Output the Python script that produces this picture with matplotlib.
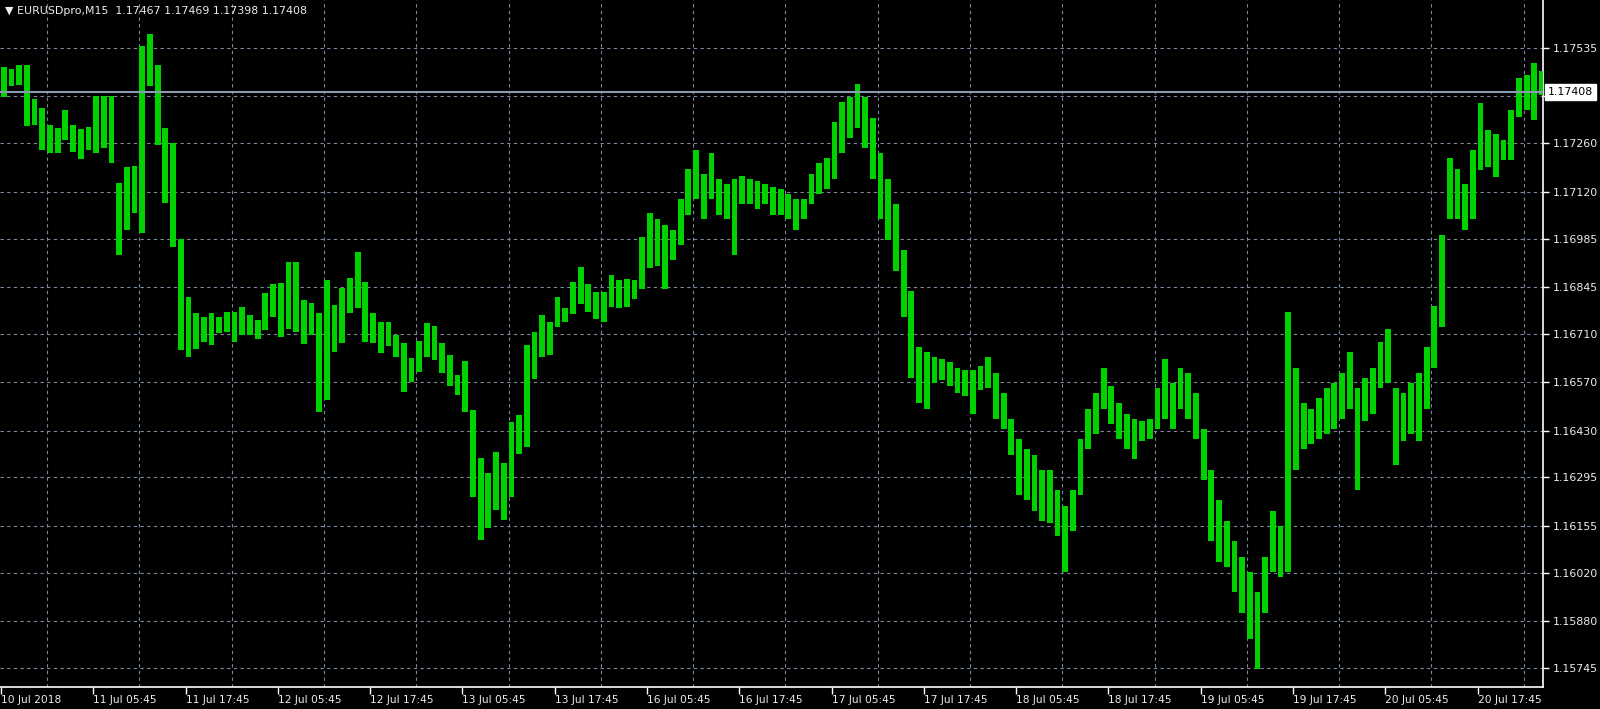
"""EURUSD M15 bar chart in the MetaTrader green-on-black style."""
import matplotlib
matplotlib.use('Agg')
import matplotlib.pyplot as plt
import numpy as np

# hourly high / low (one entry per 4 M15 bars)
hour_high = [
    1.17480, 1.17474, 1.17487, 1.17487, 1.17388, 1.17361, 1.17313, 1.17304, 1.17355, 1.17313,
    1.17301, 1.17308, 1.17397, 1.17397, 1.17397, 1.17145, 1.17190, 1.17193, 1.17540, 1.17574,
    1.17487, 1.17304, 1.17260, 1.16985, 1.16817, 1.16769, 1.16759, 1.16769, 1.16759, 1.16772,
    1.16773, 1.16788, 1.16764, 1.16749, 1.16827, 1.16854, 1.16856, 1.16918, 1.16918, 1.16807,
    1.16798, 1.16769, 1.16865, 1.16793, 1.16841, 1.16870, 1.16947, 1.16860, 1.16769, 1.16745,
    1.16745, 1.16707, 1.16683, 1.16640, 1.16688, 1.16741, 1.16731, 1.16683, 1.16649, 1.16591,
    1.16630, 1.16490, 1.16350, 1.16307, 1.16370, 1.16336, 1.16456, 1.16476, 1.16677, 1.16715,
    1.16763, 1.16744, 1.16816, 1.16783, 1.16860, 1.16903, 1.16855, 1.16831, 1.16831, 1.16879,
    1.16865, 1.16869, 1.16865, 1.16990, 1.17060, 1.17040, 1.17025, 1.17010, 1.17099, 1.17187,
    1.17240, 1.17172, 1.17231, 1.17158, 1.17143, 1.17158, 1.17165, 1.17158, 1.17150, 1.17143,
    1.17135, 1.17128, 1.17113, 1.17099, 1.17099, 1.17172, 1.17202, 1.17217, 1.17320, 1.17379,
    1.17393, 1.17432, 1.17393, 1.17334, 1.17231, 1.17158, 1.17084, 1.16951, 1.16833, 1.16671,
    1.16656, 1.16642, 1.16636, 1.16627, 1.16612, 1.16606, 1.16606, 1.16618, 1.16642, 1.16597,
    1.16538, 1.16465, 1.16406, 1.16376, 1.16361, 1.16317, 1.16317, 1.16258, 1.16214, 1.16258,
    1.16406, 1.16494, 1.16538, 1.16612, 1.16559, 1.16509, 1.16479, 1.16465, 1.16459, 1.16465,
    1.16553, 1.16636, 1.16568, 1.16612, 1.16597, 1.16538, 1.16435, 1.16317, 1.16229, 1.16170,
    1.16111, 1.16066, 1.16022, 1.15963, 1.16066, 1.16199, 1.16155, 1.16774, 1.16612, 1.16509,
    1.16494, 1.16524, 1.16553, 1.16568, 1.16597, 1.16656, 1.16553, 1.16583, 1.16612, 1.16686,
    1.16724, 1.16553, 1.16538, 1.16568, 1.16597, 1.16671, 1.16789, 1.16995, 1.17217, 1.17187,
    1.17143, 1.17240, 1.17375, 1.17298, 1.17288, 1.17269, 1.17356, 1.17448, 1.17457, 1.17491,
    1.17469]
hour_low = [
    1.17393, 1.17424, 1.17429, 1.17310, 1.17313, 1.17241, 1.17231, 1.17231, 1.17270, 1.17236,
    1.17214, 1.17241, 1.17231, 1.17246, 1.17202, 1.16937, 1.17010, 1.17058, 1.17000, 1.17424,
    1.17255, 1.17087, 1.16961, 1.16663, 1.16643, 1.16667, 1.16687, 1.16677, 1.16711, 1.16716,
    1.16687, 1.16706, 1.16706, 1.16696, 1.16721, 1.16759, 1.16701, 1.16725, 1.16716, 1.16680,
    1.16706, 1.16484, 1.16518, 1.16658, 1.16682, 1.16769, 1.16783, 1.16687, 1.16682, 1.16653,
    1.16675, 1.16644, 1.16543, 1.16572, 1.16601, 1.16644, 1.16635, 1.16596, 1.16558, 1.16534,
    1.16485, 1.16240, 1.16114, 1.16148, 1.16201, 1.16172, 1.16240, 1.16363, 1.16382, 1.16580,
    1.16643, 1.16648, 1.16729, 1.16744, 1.16768, 1.16797, 1.16773, 1.16754, 1.16744, 1.16787,
    1.16783, 1.16787, 1.16811, 1.16840, 1.16900, 1.16907, 1.16840, 1.16922, 1.16966, 1.17054,
    1.17099, 1.17040, 1.17099, 1.17054, 1.17040, 1.16936, 1.17084, 1.17084, 1.17069, 1.17084,
    1.17054, 1.17054, 1.17040, 1.17010, 1.17040, 1.17084, 1.17113, 1.17128, 1.17158, 1.17231,
    1.17275, 1.17305, 1.17246, 1.17158, 1.17040, 1.16981, 1.16892, 1.16759, 1.16583, 1.16509,
    1.16494, 1.16568, 1.16577, 1.16559, 1.16538, 1.16530, 1.16479, 1.16547, 1.16553, 1.16465,
    1.16435, 1.16361, 1.16243, 1.16229, 1.16199, 1.16170, 1.16164, 1.16125, 1.16022, 1.16140,
    1.16243, 1.16376, 1.16420, 1.16494, 1.16450, 1.16406, 1.16376, 1.16347, 1.16400, 1.16406,
    1.16435, 1.16465, 1.16435, 1.16494, 1.16465, 1.16406, 1.16288, 1.16111, 1.16052, 1.16037,
    1.15963, 1.15904, 1.15830, 1.15742, 1.15904, 1.16022, 1.16008, 1.16022, 1.16317, 1.16376,
    1.16391, 1.16406, 1.16420, 1.16435, 1.16465, 1.16494, 1.16258, 1.16459, 1.16479, 1.16553,
    1.16568, 1.16332, 1.16400, 1.16420, 1.16400, 1.16494, 1.16612, 1.16730, 1.17040, 1.17040,
    1.17010, 1.17040, 1.17183, 1.17192, 1.17163, 1.17212, 1.17212, 1.17337, 1.17356, 1.17327,
    1.17398]

price_ticks = [1.17535, 1.17395, 1.17260, 1.17120, 1.16985, 1.16845, 1.16710,
               1.16570, 1.16430, 1.16295, 1.16155, 1.16020, 1.15880, 1.15745]
time_labels = ['10 Jul 2018', '11 Jul 05:45', '11 Jul 17:45', '12 Jul 05:45',
               '12 Jul 17:45', '13 Jul 05:45', '13 Jul 17:45', '16 Jul 05:45',
               '16 Jul 17:45', '17 Jul 05:45', '17 Jul 17:45', '18 Jul 05:45',
               '18 Jul 17:45', '19 Jul 05:45', '19 Jul 17:45', '20 Jul 05:45',
               '20 Jul 17:45']
symbol = 'EURUSDpro,M15'
last_ohlc = [1.17467, 1.17469, 1.17398, 1.17408]
bid = 1.17408

assert len(hour_high) == len(hour_low)

BG = 'black'
FG = '#ececec'
GRID = '#7a8a9c'
BARS = '#00d200'

plt.rcParams['font.family'] = ['DejaVu Sans']

fig = plt.figure(figsize=(16, 7.09), dpi=100, facecolor=BG)
ax = fig.add_axes([0.0, 22 / 709, 1543 / 1600, 687 / 709], facecolor=BG)

# one M15 bar = 1 x unit, each hour spans 4 of them
hours = np.arange(len(hour_high))
x = hours * 4 + 1.5
hi = np.array(hour_high)
lo = np.array(hour_low)
ax.bar(x, hi - lo, bottom=lo, width=3.0, color=BARS, linewidth=0, zorder=3)

ax.set_xlim(-0.5, 802)
ax.set_ylim(1.156901, 1.176736)

# grid
ax.set_yticks(price_ticks)
ax.set_yticklabels(['%.5f' % p for p in price_ticks])
ax.set_xticks(np.arange(len(time_labels)) * 48)
ax.set_xticklabels(time_labels)
ax.set_xticks(np.arange(24, 800, 24), minor=True)
ax.grid(which='major', axis='y', color=GRID, linestyle=(0, (3, 3)), linewidth=0.8, zorder=1)
ax.grid(which='minor', axis='x', color=GRID, linestyle=(0, (3, 3)), linewidth=0.8, zorder=1)
ax.grid(which='major', axis='x', visible=False)

ax.yaxis.tick_right()
ax.tick_params(axis='y', which='major', direction='out', length=4, width=1,
               color='white', labelcolor=FG, labelsize=7.9, pad=3)
ax.tick_params(axis='x', which='major', direction='out', length=5, width=1,
               color='white', labelcolor=FG, labelsize=7.7, pad=1)
ax.tick_params(axis='x', which='minor', length=0)
for lab in ax.get_xticklabels():
    lab.set_horizontalalignment('left')

for side in ['left', 'top']:
    ax.spines[side].set_visible(False)
for side in ['right', 'bottom']:
    ax.spines[side].set_color('white')
    ax.spines[side].set_linewidth(1.2)

# bid line and its label
ax.axhline(bid, color='#8a9bb0', linewidth=1.5, zorder=4)
ax.text(1.003, bid, '%.5f' % bid, transform=ax.get_yaxis_transform(),
        ha='left', va='center', fontsize=7.9, color='black', clip_on=False,
        bbox=dict(boxstyle='square,pad=0.25', fc='white', ec='white'), zorder=6)

# header
title = '\u25bc ' + symbol + '  ' + ' '.join('%.5f' % v for v in last_ohlc)
fig.text(0.003, 1 - 11 / 709, title, ha='left', va='center', fontsize=7.9, color=FG)

fig.savefig('out.png', dpi=100, facecolor=BG)
